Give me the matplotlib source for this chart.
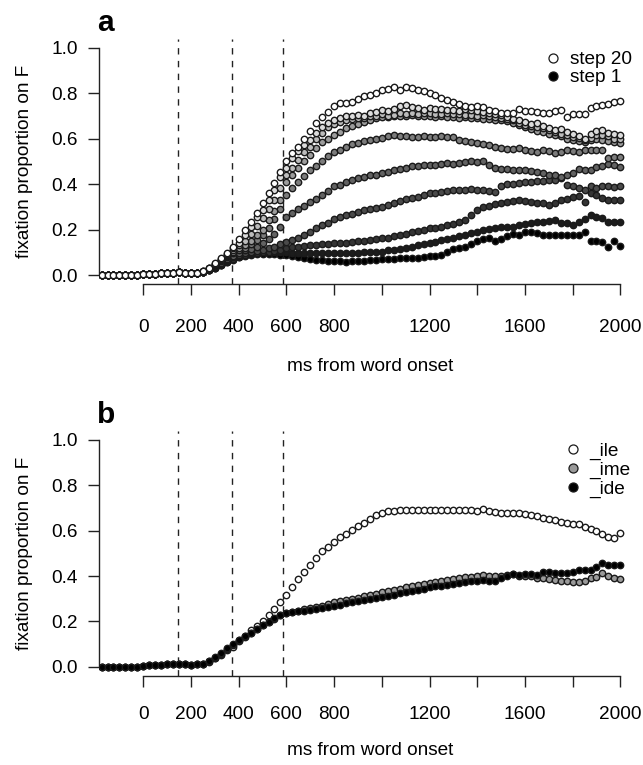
import numpy as np
import matplotlib
matplotlib.use("Agg")
import matplotlib.pyplot as plt
from matplotlib.lines import Line2D

plt.rcParams['font.family'] = ['Liberation Sans', 'DejaVu Sans']
plt.rcParams['font.size'] = 13.7

# ---------------- data ----------------
time_ms = list(range(-175, 2001, 25))  # 25-ms bins, 88 points

# all series overlap at floor before the rise (-175 .. 225 ms)
onset_base = [0.000, 0.000, 0.000, 0.000, 0.000, 0.000, 0.001, 0.004, 0.006,
              0.006, 0.008, 0.010, 0.010, 0.012, 0.010, 0.009, 0.010]

# panel a: continuum steps, from step 20 (top, white) to step 1 (bottom, black)
a_step20 = onset_base + [
    0.018, 0.033, 0.052, 0.075, 0.098, 0.125, 0.157, 0.198, 0.235, 0.274,
    0.315, 0.362, 0.406, 0.455, 0.500, 0.535, 0.565, 0.600, 0.632, 0.667,
    0.694, 0.718, 0.743, 0.758, 0.758, 0.762, 0.776, 0.786, 0.790, 0.800,
    0.812, 0.818, 0.826, 0.815, 0.828, 0.823, 0.815, 0.808, 0.800, 0.790,
    0.780, 0.770, 0.760, 0.752, 0.745, 0.738, 0.742, 0.738, 0.726, 0.723,
    0.715, 0.714, 0.713, 0.730, 0.722, 0.723, 0.718, 0.714, 0.712, 0.720,
    0.728, 0.694, 0.708, 0.708, 0.708, 0.735, 0.744, 0.748, 0.752, 0.760,
    0.767]
a_s2 = onset_base + [
    0.017, 0.031, 0.050, 0.072, 0.094, 0.118, 0.140, 0.176, 0.210, 0.257,
    0.286, 0.330, 0.374, 0.432, 0.470, 0.513, 0.545, 0.572, 0.594, 0.625,
    0.650, 0.668, 0.682, 0.690, 0.700, 0.698, 0.704, 0.700, 0.712, 0.716,
    0.726, 0.720, 0.730, 0.742, 0.748, 0.738, 0.735, 0.728, 0.735, 0.732,
    0.730, 0.727, 0.726, 0.722, 0.730, 0.725, 0.722, 0.718, 0.712, 0.708,
    0.702, 0.695, 0.685, 0.680, 0.672, 0.664, 0.668, 0.655, 0.648, 0.640,
    0.642, 0.628, 0.620, 0.612, 0.600, 0.622, 0.635, 0.640, 0.625, 0.622,
    0.616]
a_s3 = onset_base + [
    0.016, 0.030, 0.048, 0.068, 0.090, 0.110, 0.130, 0.150, 0.180, 0.215,
    0.250, 0.290, 0.330, 0.385, 0.440, 0.470, 0.505, 0.540, 0.565, 0.600,
    0.625, 0.650, 0.665, 0.675, 0.680, 0.685, 0.690, 0.692, 0.698, 0.700,
    0.707, 0.700, 0.705, 0.712, 0.710, 0.715, 0.708, 0.712, 0.715, 0.710,
    0.708, 0.712, 0.707, 0.710, 0.705, 0.702, 0.700, 0.703, 0.698, 0.695,
    0.690, 0.688, 0.680, 0.670, 0.662, 0.655, 0.650, 0.645, 0.640, 0.630,
    0.622, 0.615, 0.608, 0.603, 0.595, 0.605, 0.618, 0.615, 0.610, 0.600,
    0.598]
a_s4 = onset_base + [
    0.015, 0.028, 0.045, 0.064, 0.085, 0.100, 0.118, 0.130, 0.150, 0.175,
    0.200, 0.240, 0.280, 0.330, 0.410, 0.440, 0.470, 0.500, 0.530, 0.560,
    0.585, 0.600, 0.616, 0.630, 0.645, 0.655, 0.665, 0.675, 0.680, 0.690,
    0.697, 0.695, 0.700, 0.698, 0.700, 0.702, 0.698, 0.700, 0.700, 0.696,
    0.698, 0.695, 0.697, 0.693, 0.695, 0.692, 0.690, 0.688, 0.685, 0.683,
    0.680, 0.676, 0.668, 0.660, 0.650, 0.643, 0.635, 0.628, 0.622, 0.615,
    0.610, 0.600, 0.595, 0.590, 0.585, 0.595, 0.600, 0.592, 0.588, 0.585,
    0.582]
a_s5 = onset_base + [
    0.015, 0.027, 0.043, 0.060, 0.078, 0.095, 0.110, 0.120, 0.135, 0.155,
    0.175, 0.205, 0.245, 0.290, 0.350, 0.385, 0.410, 0.435, 0.460, 0.480,
    0.500, 0.522, 0.540, 0.552, 0.565, 0.575, 0.583, 0.590, 0.595, 0.600,
    0.605, 0.610, 0.615, 0.612, 0.610, 0.607, 0.608, 0.612, 0.608, 0.607,
    0.610, 0.608, 0.606, 0.596, 0.590, 0.585, 0.580, 0.578, 0.572, 0.565,
    0.558, 0.556, 0.553, 0.560, 0.548, 0.545, 0.542, 0.550, 0.545, 0.535,
    0.540, 0.550, 0.545, 0.540, 0.550, 0.548, 0.552, 0.548, 0.513, 0.518,
    0.520]
a_s6 = onset_base + [
    0.014, 0.025, 0.040, 0.055, 0.070, 0.085, 0.098, 0.108, 0.115, 0.125,
    0.140, 0.160, 0.180, 0.210, 0.255, 0.275, 0.290, 0.305, 0.320, 0.335,
    0.350, 0.370, 0.390, 0.398, 0.410, 0.418, 0.425, 0.432, 0.438, 0.442,
    0.447, 0.455, 0.462, 0.468, 0.472, 0.478, 0.480, 0.483, 0.484, 0.485,
    0.490, 0.492, 0.490, 0.495, 0.498, 0.500, 0.498, 0.500, 0.485, 0.470,
    0.468, 0.465, 0.462, 0.462, 0.460, 0.458, 0.455, 0.448, 0.442, 0.438,
    0.432, 0.440, 0.450, 0.465, 0.462, 0.460, 0.475, 0.480, 0.488, 0.484,
    0.476]
a_s7 = onset_base + [
    0.013, 0.023, 0.036, 0.050, 0.065, 0.078, 0.088, 0.095, 0.100, 0.105,
    0.110, 0.118, 0.125, 0.135, 0.145, 0.155, 0.165, 0.178, 0.190, 0.205,
    0.218, 0.230, 0.245, 0.256, 0.262, 0.270, 0.278, 0.285, 0.290, 0.296,
    0.300, 0.310, 0.318, 0.325, 0.333, 0.340, 0.345, 0.352, 0.360, 0.362,
    0.366, 0.370, 0.372, 0.374, 0.375, 0.377, 0.374, 0.372, 0.368, 0.366,
    0.390, 0.400, 0.402, 0.405, 0.408, 0.410, 0.412, 0.415, 0.418, 0.420,
    0.425, 0.398, 0.392, 0.385, 0.375, 0.390, 0.385, 0.392, 0.390, 0.388,
    0.390]
a_s8 = onset_base + [
    0.012, 0.021, 0.033, 0.046, 0.060, 0.072, 0.082, 0.090, 0.095, 0.098,
    0.100, 0.103, 0.106, 0.110, 0.117, 0.122, 0.125, 0.128, 0.130, 0.133,
    0.135, 0.137, 0.139, 0.141, 0.143, 0.146, 0.148, 0.150, 0.155, 0.158,
    0.161, 0.165, 0.170, 0.176, 0.182, 0.188, 0.192, 0.198, 0.205, 0.208,
    0.213, 0.218, 0.225, 0.232, 0.240, 0.262, 0.285, 0.298, 0.305, 0.312,
    0.315, 0.320, 0.325, 0.330, 0.326, 0.320, 0.318, 0.315, 0.310, 0.318,
    0.330, 0.335, 0.345, 0.348, 0.322, 0.360, 0.352, 0.340, 0.332, 0.330,
    0.330]
a_s9 = onset_base + [
    0.012, 0.020, 0.031, 0.044, 0.058, 0.070, 0.080, 0.088, 0.093, 0.097,
    0.100, 0.100, 0.102, 0.103, 0.100, 0.098, 0.097, 0.098, 0.098, 0.096,
    0.095, 0.097, 0.098, 0.096, 0.097, 0.098, 0.098, 0.100, 0.100, 0.102,
    0.103, 0.108, 0.112, 0.115, 0.120, 0.125, 0.130, 0.135, 0.142, 0.147,
    0.152, 0.158, 0.165, 0.170, 0.178, 0.185, 0.190, 0.198, 0.202, 0.205,
    0.210, 0.212, 0.213, 0.220, 0.225, 0.227, 0.232, 0.235, 0.238, 0.242,
    0.230, 0.228, 0.222, 0.235, 0.245, 0.264, 0.255, 0.250, 0.235, 0.232,
    0.232]
a_step1 = onset_base + [
    0.012, 0.020, 0.030, 0.043, 0.056, 0.068, 0.078, 0.085, 0.090, 0.092,
    0.093, 0.093, 0.092, 0.090, 0.088, 0.082, 0.078, 0.073, 0.070, 0.066,
    0.064, 0.062, 0.060, 0.060, 0.059, 0.060, 0.062, 0.062, 0.064, 0.066,
    0.070, 0.072, 0.072, 0.074, 0.075, 0.075, 0.077, 0.080, 0.082, 0.085,
    0.088, 0.100, 0.115, 0.118, 0.125, 0.138, 0.148, 0.160, 0.165, 0.150,
    0.160, 0.170, 0.180, 0.176, 0.188, 0.190, 0.185, 0.176, 0.176, 0.176,
    0.176, 0.178, 0.176, 0.176, 0.188, 0.150, 0.148, 0.145, 0.122, 0.150,
    0.128]

# panel b: word endings
b_ile = onset_base + [
    0.010, 0.020, 0.037, 0.052, 0.074, 0.087, 0.112, 0.137, 0.160, 0.180,
    0.203, 0.228, 0.255, 0.285, 0.316, 0.352, 0.388, 0.420, 0.450, 0.478,
    0.510, 0.530, 0.550, 0.570, 0.585, 0.603, 0.620, 0.636, 0.653, 0.668,
    0.680, 0.687, 0.687, 0.690, 0.690, 0.690, 0.690, 0.692, 0.692, 0.692,
    0.692, 0.690, 0.690, 0.690, 0.692, 0.690, 0.688, 0.695, 0.685, 0.684,
    0.680, 0.680, 0.679, 0.676, 0.674, 0.670, 0.666, 0.658, 0.650, 0.645,
    0.640, 0.634, 0.630, 0.628, 0.615, 0.607, 0.600, 0.586, 0.574, 0.567,
    0.590]
b_ime = onset_base + [
    0.012, 0.024, 0.040, 0.058, 0.078, 0.097, 0.116, 0.132, 0.148, 0.165,
    0.184, 0.196, 0.212, 0.226, 0.238, 0.243, 0.248, 0.255, 0.260, 0.265,
    0.270, 0.276, 0.284, 0.290, 0.295, 0.300, 0.305, 0.310, 0.316, 0.322,
    0.328, 0.333, 0.338, 0.343, 0.350, 0.355, 0.360, 0.365, 0.370, 0.375,
    0.378, 0.383, 0.388, 0.390, 0.394, 0.396, 0.400, 0.405, 0.402, 0.400,
    0.402, 0.404, 0.408, 0.402, 0.400, 0.398, 0.392, 0.390, 0.385, 0.382,
    0.380, 0.378, 0.375, 0.375, 0.376, 0.390, 0.395, 0.412, 0.400, 0.392,
    0.386]
b_ide = onset_base + [
    0.013, 0.026, 0.043, 0.062, 0.081, 0.099, 0.118, 0.134, 0.150, 0.166,
    0.184, 0.199, 0.214, 0.228, 0.236, 0.240, 0.244, 0.248, 0.252, 0.256,
    0.260, 0.264, 0.268, 0.274, 0.279, 0.284, 0.288, 0.293, 0.298, 0.302,
    0.308, 0.312, 0.318, 0.324, 0.330, 0.336, 0.340, 0.345, 0.350, 0.354,
    0.358, 0.362, 0.365, 0.370, 0.375, 0.378, 0.380, 0.382, 0.378, 0.380,
    0.390, 0.400, 0.408, 0.405, 0.410, 0.408, 0.405, 0.418, 0.420, 0.412,
    0.415, 0.413, 0.418, 0.426, 0.425, 0.428, 0.440, 0.458, 0.450, 0.450,
    0.450]

panel_a_series = [a_step20, a_s2, a_s3, a_s4, a_s5, a_s6, a_s7, a_s8, a_s9, a_step1]
panel_a_legend = ["step 20", "step 1"]
panel_b_series = [b_ile, b_ime, b_ide]
panel_b_labels = ["_ile", "_ime", "_ide"]

boundaries_ms = [147, 373, 585]
x_ticks = [0, 200, 400, 600, 800, 1000, 1200, 1400, 1600, 1800, 2000]
x_ticklabels = ["0", "200", "400", "600", "800", "", "1200", "", "1600", "", "2000"]
y_ticks = [0.0, 0.2, 0.4, 0.6, 0.8, 1.0]
y_ticklabels = ["0.0", "0.2", "0.4", "0.6", "0.8", "1.0"]
x_label = "ms from word onset"
y_label = "fixation proportion on F"

# ---------------- style ----------------
a_fills = ['#ffffff', '#dcdcdc', '#bcbcbc', '#9c9c9c', '#7c7c7c',
           '#626262', '#4a4a4a', '#343434', '#1c1c1c', '#000000']
b_fills = ['#ffffff', '#9a9a9a', '#000000']
EDGE = '#1a1a1a'

fig = plt.figure(figsize=(6.43, 7.65), dpi=100)
ax_a = fig.add_axes([0.1546, 0.6286, 0.8413, 0.3209])
ax_b = fig.add_axes([0.1546, 0.1166, 0.8413, 0.3201])


def style_axes(ax, xpad, xlab_y):
    ax.set_xlim(-184, 2084)
    ax.set_ylim(-0.04, 1.04)
    for s in ['top', 'right']:
        ax.spines[s].set_visible(False)
    ax.spines['left'].set_bounds(0, 1)
    ax.spines['bottom'].set_bounds(0, 2000)
    for s in ['left', 'bottom']:
        ax.spines[s].set_linewidth(1.0)
        ax.spines[s].set_color('#222222')
    ax.set_xticks(x_ticks)
    ax.set_xticklabels(x_ticklabels)
    ax.set_yticks(y_ticks)
    ax.set_yticklabels(y_ticklabels)
    ax.tick_params(axis='both', direction='out', length=8, width=1.0,
                   color='#222222', labelsize=13.7)
    ax.tick_params(axis='x', pad=xpad)
    ax.tick_params(axis='y', pad=7.5)
    for b in boundaries_ms:
        ax.axvline(b, color='#222222', lw=1.0, ls=(0, (4.6, 4.6)), zorder=1)
    ax.set_xlabel(x_label)
    ax.set_ylabel(y_label)
    ax.xaxis.set_label_coords(0.5, xlab_y)
    ax.yaxis.set_label_coords(-0.122, 0.5)


style_axes(ax_a, 17.0, -0.300)
style_axes(ax_b, 13.5, -0.270)

for vals, fc in zip(panel_a_series[::-1], a_fills[::-1]):
    ax_a.plot(time_ms, vals, ls='none', marker='o', ms=4.6, mfc=fc,
              mec=EDGE, mew=1.0, zorder=3)

for vals, fc in zip(panel_b_series, b_fills):
    ax_b.plot(time_ms, vals, ls='none', marker='o', ms=4.6, mfc=fc,
              mec=EDGE, mew=1.0, zorder=3)

ha = [Line2D([], [], ls='none', marker='o', ms=6.5, mfc=a_fills[0], mec=EDGE, mew=0.9),
      Line2D([], [], ls='none', marker='o', ms=6.5, mfc=a_fills[-1], mec=EDGE, mew=0.9)]
ax_a.legend(ha, panel_a_legend, loc='upper left', bbox_to_anchor=(0.8214, 0.949),
            frameon=False, borderpad=0, borderaxespad=0, handlelength=1.0,
            handletextpad=0.38, labelspacing=0.03, fontsize=13.7)

hb = [Line2D([], [], ls='none', marker='o', ms=6.5, mfc=fc, mec=EDGE, mew=0.9)
      for fc in b_fills]
ax_b.legend(hb, panel_b_labels, loc='upper left', bbox_to_anchor=(0.8584, 0.9518),
            frameon=False, borderpad=0, borderaxespad=0, handlelength=1.0,
            handletextpad=0.35, labelspacing=0.08, fontsize=13.7)

fig.text(97 / 643, 1 - 30.7 / 765, "a", fontsize=21.5, fontweight='bold',
         ha='left', va='baseline')
fig.text(97 / 643, 1 - 423.3 / 765, "b", fontsize=21.5, fontweight='bold',
         ha='left', va='baseline')

fig.savefig("out.png", dpi=100)
